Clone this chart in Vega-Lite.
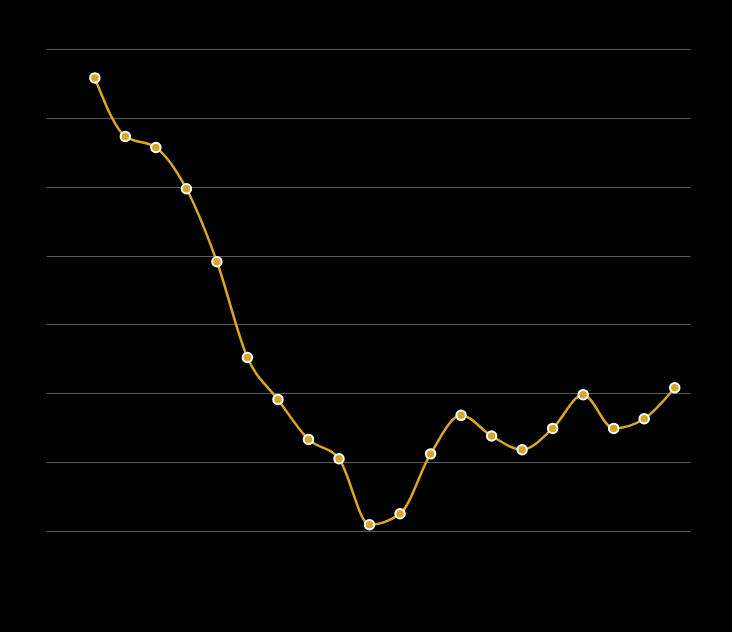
{
  "$schema": "https://vega.github.io/schema/vega-lite/v6.json",
  "autosize": "none",
  "width": 644,
  "height": 482,
  "padding": {"left": 46, "top": 49, "right": 42, "bottom": 101},
  "background": "#000000",
  "config": {"view": {"stroke": null}},
  "data": {"values": [
    {"i": 1, "v": 65.8}, {"i": 2, "v": 57.3}, {"i": 3, "v": 55.7}, {"i": 4, "v": 49.7},
    {"i": 5, "v": 39.1}, {"i": 6, "v": 25.2}, {"i": 7, "v": 19.1}, {"i": 8, "v": 13.3},
    {"i": 9, "v": 10.5}, {"i": 10, "v": 0.9}, {"i": 11, "v": 2.5}, {"i": 12, "v": 11.2},
    {"i": 13, "v": 16.8}, {"i": 14, "v": 13.8}, {"i": 15, "v": 11.8}, {"i": 16, "v": 14.9},
    {"i": 17, "v": 19.8}, {"i": 18, "v": 14.9}, {"i": 19, "v": 16.3}, {"i": 20, "v": 20.8}
  ]},
  "encoding": {
    "x": {"field": "i", "type": "quantitative", "scale": {"domain": [-0.6, 20.5], "nice": false, "zero": false}, "axis": null},
    "y": {"field": "v", "type": "quantitative", "scale": {"domain": [0, 70], "nice": false}, "axis": {"values": [0, 10, 20, 30, 40, 50, 60, 70], "grid": true, "gridColor": "#5a5a5a", "gridWidth": 1, "domain": false, "ticks": false, "labels": false, "title": null}}
  },
  "layer": [
    {"mark": {"type": "line", "interpolate": "monotone", "color": "#D9A925", "strokeWidth": 2.5}},
    {"mark": {"type": "point", "filled": true, "size": 90, "fill": "#D4A62A", "stroke": "#ffffff", "strokeWidth": 2, "opacity": 1}}
  ]
}
